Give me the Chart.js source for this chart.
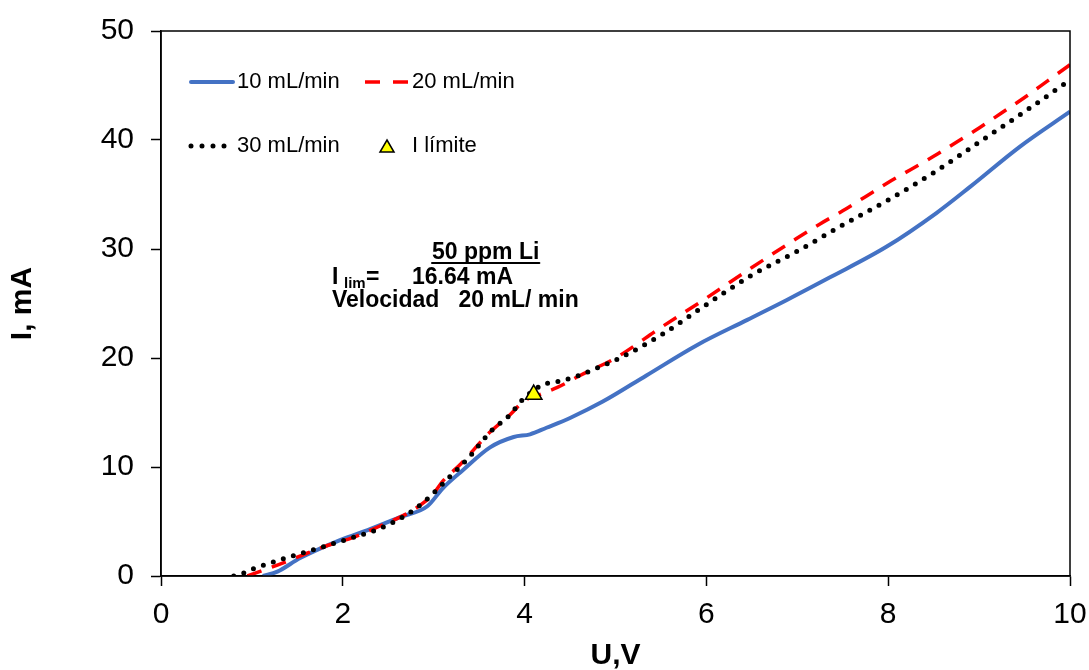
<!DOCTYPE html>
<html>
<head>
<meta charset="utf-8">
<script src="https://cdn.jsdelivr.net/npm/chart.js@4/dist/chart.umd.min.js"></script>
<style>
  html, body { margin: 0; padding: 0; background: #fff; }
  canvas { display: block; }
</style>
</head>
<body>
<canvas id="grafico" width="1089" height="670"></canvas>
<script>
// Datos (U en V, I en mA)
const u10 = [1.12, 1.28, 1.53, 1.97, 2.3, 2.63, 2.93, 3.1, 3.32, 3.62, 3.88, 4.06, 4.24, 4.5, 4.86, 5.34, 5.9, 6.45, 6.88, 7.36, 7.98, 8.53, 8.9, 9.45, 10];
const i10 = [0, 0.4, 1.65, 3.3, 4.3, 5.4, 6.4, 8.05, 9.7, 11.8, 12.75, 13.0, 13.6, 14.5, 16.0, 18.4, 21.2, 23.5, 25.3, 27.4, 30.2, 33.3, 35.7, 39.4, 42.6];

const u20 = [0.95, 1.28, 1.55, 1.83, 2.1, 2.44, 2.7, 2.9, 3.0, 3.1, 3.3, 3.62, 3.84, 4.0, 4.15, 4.36, 4.61, 5.0, 5.5, 6.0, 6.5, 7.0, 7.25, 7.5, 7.75, 8.0, 8.25, 8.5, 8.75, 9.0, 9.25, 9.5, 9.75, 10];
const i20 = [0, 1.0, 1.9, 2.8, 3.5, 4.7, 5.7, 6.8, 7.6, 8.7, 10.3, 13.2, 14.8, 16.1, 16.6, 17.3, 18.4, 20.0, 22.8, 25.5, 28.3, 31.0, 32.3, 33.5, 34.8, 36.1, 37.3, 38.5, 39.8, 41.1, 42.5, 43.9, 45.4, 46.9];

const u30 = [0.8, 0.92, 1.03, 1.28, 1.51, 1.75, 2.1, 2.33, 2.55, 2.77, 2.96, 3.14, 3.4, 3.62, 3.84, 3.98, 4.19, 4.4, 4.6, 4.8, 5.0, 5.5, 6.0, 6.5, 7.0, 7.5, 8.0, 8.5, 9.0, 9.5, 10];
const i30 = [0, 0.3, 0.7, 1.4, 2.0, 2.6, 3.5, 4.1, 4.9, 6.0, 7.3, 8.8, 11.0, 13.2, 14.8, 16.2, 17.5, 17.9, 18.4, 19.1, 19.8, 22.1, 24.9, 27.6, 29.8, 32.2, 34.5, 37.0, 39.8, 42.6, 45.5];

const uLim = [4.1];
const iLim = [16.64];

const etiquetas = ['10 mL/min', '20 mL/min', '30 mL/min', 'I límite'];
const fuente = "'Liberation Sans', Arial, sans-serif";

function puntos(u, i) {
    return u.map((v, k) => ({ x: v, y: i[k] }));
}

// Leyenda, marco y anotación dibujados dentro del área del gráfico
const extras = {
    id: 'extras',
    afterDraw(chart) {
        const ctx = chart.ctx;
        const a = chart.chartArea;
        ctx.save();

        // marco completo
        ctx.strokeStyle = '#000';
        ctx.lineWidth = 1.5;
        ctx.strokeRect(a.left, a.top, a.right - a.left, a.bottom - a.top);

        // leyenda
        ctx.font = '22px ' + fuente;
        ctx.fillStyle = '#000';
        ctx.textBaseline = 'middle';
        ctx.textAlign = 'left';

        ctx.lineCap = 'round';
        ctx.strokeStyle = '#4472c4';
        ctx.lineWidth = 4;
        ctx.beginPath(); ctx.moveTo(191, 82); ctx.lineTo(233, 82); ctx.stroke();
        ctx.fillText(etiquetas[0], 237, 82);

        ctx.lineCap = 'butt';
        ctx.strokeStyle = '#ff0000';
        ctx.lineWidth = 3.5;
        ctx.setLineDash([15, 13]);
        ctx.beginPath(); ctx.moveTo(365, 82); ctx.lineTo(408, 82); ctx.stroke();
        ctx.fillText(etiquetas[1], 412, 82);

        ctx.lineCap = 'round';
        ctx.strokeStyle = '#000';
        ctx.lineWidth = 5;
        ctx.setLineDash([0, 11]);
        ctx.beginPath(); ctx.moveTo(191, 146); ctx.lineTo(226, 146); ctx.stroke();
        ctx.setLineDash([]);
        ctx.fillText(etiquetas[2], 237, 146);

        ctx.fillStyle = '#ffff00';
        ctx.strokeStyle = '#000';
        ctx.lineWidth = 1.5;
        ctx.beginPath();
        ctx.moveTo(387, 140); ctx.lineTo(394, 152); ctx.lineTo(380, 152); ctx.closePath();
        ctx.fill(); ctx.stroke();
        ctx.fillStyle = '#000';
        ctx.fillText(etiquetas[3], 412, 146);

        // anotación
        ctx.textBaseline = 'alphabetic';
        ctx.font = 'bold 23px ' + fuente;
        ctx.fillText('50 ppm Li', 432, 259);
        const w = ctx.measureText('50 ppm Li').width;
        ctx.lineWidth = 2;
        ctx.beginPath(); ctx.moveTo(432, 263); ctx.lineTo(432 + w, 263); ctx.stroke();

        ctx.fillText('I', 332, 284);
        ctx.font = 'bold 15px ' + fuente;
        ctx.fillText('lim', 344, 288);
        ctx.font = 'bold 23px ' + fuente;
        ctx.fillText('=', 366, 284);
        ctx.fillText('16.64 mA', 412, 284);
        ctx.fillText('Velocidad   20 mL/ min', 332, 307);

        ctx.restore();
    }
};

new Chart(document.getElementById('grafico'), {
    type: 'scatter',
    data: {
        datasets: [{
            label: etiquetas[0],
            data: puntos(u10, i10),
            order: 3,
            showLine: true,
            borderColor: '#4472c4',
            borderWidth: 4,
            pointRadius: 0,
            cubicInterpolationMode: 'monotone'
        },
        {
            label: etiquetas[1],
            data: puntos(u20, i20),
            order: 2,
            showLine: true,
            borderColor: '#ff0000',
            borderWidth: 3.5,
            borderDash: [15, 11],
            pointRadius: 0,
            cubicInterpolationMode: 'monotone'
        },
        {
            label: etiquetas[2],
            data: puntos(u30, i30),
            order: 1,
            showLine: true,
            borderColor: '#000000',
            borderWidth: 5,
            borderDash: [0, 10.5],
            borderCapStyle: 'round',
            pointRadius: 0,
            cubicInterpolationMode: 'monotone'
        },
        {
            label: etiquetas[3],
            data: puntos(uLim, iLim),
            order: 0,
            showLine: false,
            pointStyle: 'triangle',
            pointRadius: 9.5,
            backgroundColor: '#ffff00',
            borderColor: '#000000',
            borderWidth: 1.5
        }]
    },
    options: {
        responsive: false,
        animation: false,
        layout: { padding: { top: 31, right: 19, left: 0, bottom: 0 } },
        plugins: {
            legend: { display: false },
            tooltip: { enabled: false }
        },
        scales: {
            x: {
                type: 'linear',
                min: 0,
                max: 10,
                ticks: { stepSize: 2, color: '#000', padding: 2, font: { family: fuente, size: 30, lineHeight: 1.8 } },
                grid: { drawOnChartArea: false, drawTicks: true, tickLength: 10, tickColor: '#000', tickWidth: 1.5 },
                border: { display: true, color: '#000', width: 1.5 },
                title: { display: true, text: 'U,V', color: '#000', padding: { top: 0, bottom: -4 }, font: { family: fuente, size: 30, weight: 'bold' } },
                afterFit(scale) { scale.height = 94; }
            },
            y: {
                type: 'linear',
                min: 0,
                max: 50,
                ticks: { stepSize: 10, color: '#000', padding: 17, font: { family: fuente, size: 30, lineHeight: 0.5 } },
                grid: { drawOnChartArea: false, drawTicks: true, tickLength: 10, tickColor: '#000', tickWidth: 1.5 },
                border: { display: true, color: '#000', width: 1.5 },
                title: { display: true, text: 'I, mA', color: '#000', padding: 5, font: { family: fuente, size: 30, weight: 'bold' } },
                afterFit(scale) { scale.width = 161; }
            }
        }
    },
    plugins: [extras]
});
</script>
</body>
</html>
